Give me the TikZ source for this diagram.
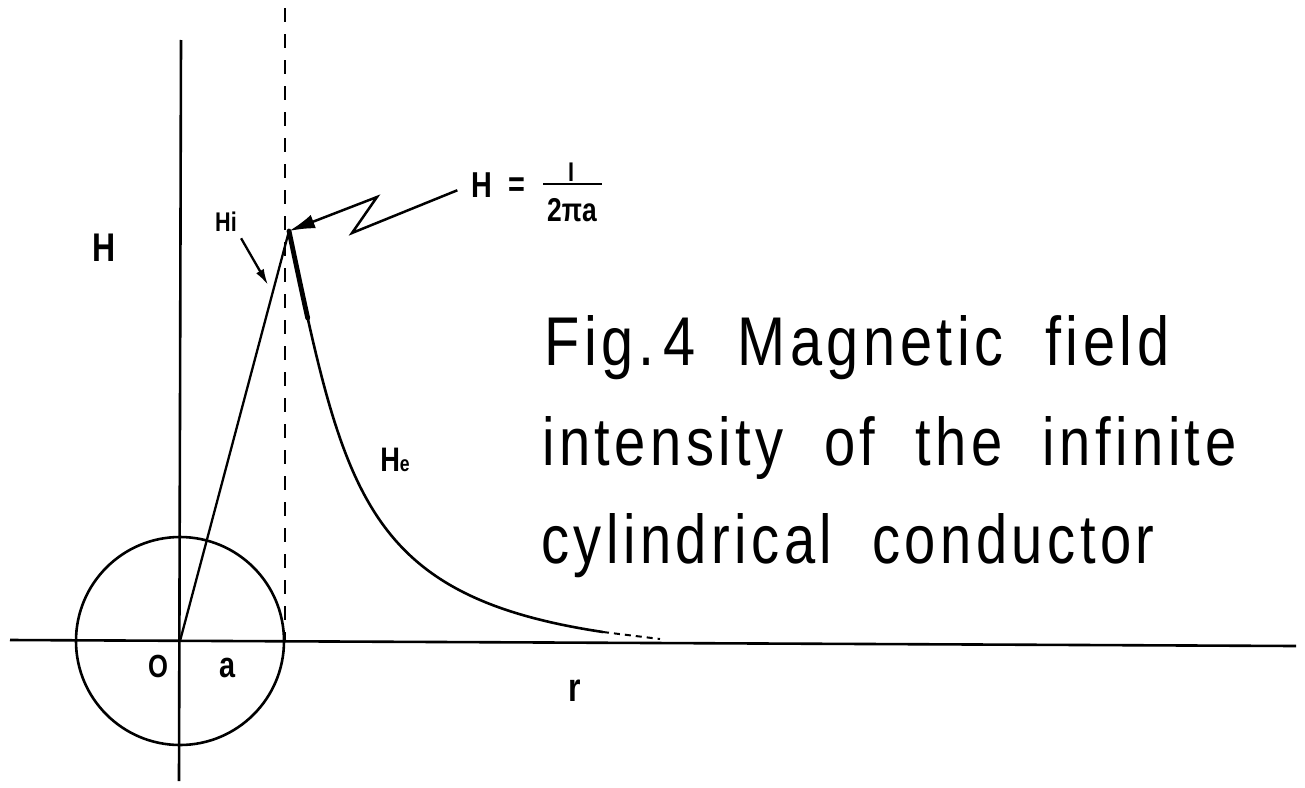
\documentclass[tikz,border=0pt]{standalone}
\usepackage{fontspec}
\usetikzlibrary{arrows.meta}
\newfontfamily\capfont[LetterSpace=8]{Liberation Sans}
\newfontfamily\labfont[FakeStretch=0.8]{Liberation Sans}
\newcommand\labsz[1]{\labfont\bfseries\fontsize{#1}{#1}\selectfont}
\begin{document}
\begin{tikzpicture}[x=1pt,y=-1pt,line width=2.6pt,
  lab/.style={inner sep=0pt},
  capline/.style={anchor=base west,inner sep=0pt,font=\capfont},
  tip/.style={-{Latex[length=#1,width=0.55*#1]}}]
\useasboundingbox (0,0) rectangle (1305,787);
% axes and construction
\coordinate (O) at (180,641);
\coordinate (xL) at (10,640);
\coordinate (xR) at (1296,646);
\coordinate (yT) at (181,40);
\coordinate (yB) at (179,781);
\coordinate (dT) at (285,8);
\coordinate (dB) at (285,641);
\coordinate (P) at (289,231);
\coordinate (tail) at (603,632);
\coordinate (tailE) at (660,639);
\draw (xL) -- (xR);
\draw (yT) -- (yB);
\draw (O) circle[radius=104pt];
\draw[line width=2.3pt,dash pattern=on 14pt off 12pt] (dT) -- (dB);
\draw[line width=2.3pt] (O) -- (P);
% H_e curve
\draw (P) .. controls (344,491) and (363,596) .. (tail);
\draw[line width=4.8pt,line cap=round] (P) .. controls (295.6,262.2) and (301.7,291.2) .. (307.7,318.1);
\draw[line width=2pt,dash pattern=on 6pt off 5pt] (tail) -- (tailE);
% labels
\node[lab,font=\labsz{40}] (Hax) at (104,248) {H};
\node[lab,font=\labsz{27}] (Hi) at (226,222) {Hi};
\node[lab,font=\labsz{34}] (He) at (395,460) {H\fontsize{22}{22}\selectfont e};
\node[lab,font=\labsz{32}] (Olab) at (158,666) {O};
\node[lab,font=\labsz{36}] (alab) at (228,668) {a};
\node[lab,font=\labsz{40}] (rlab) at (575,691) {r};
\node[lab,font=\labsz{36}] (Heq) at (482,185) {H};
\node[lab,font=\labsz{36}] (eq) at (517,187) {=};
\node[lab,font=\labsz{27}] (num) at (571,172) {I};
\node[lab,font=\labsz{33}] (den) at (572,210) {2πa};
\coordinate (barL) at (543,184);
\coordinate (barR) at (602,184);
\draw[line width=2.3pt] (barL) -- (barR);
% arrows
\coordinate (hiE) at (268,285);
\draw[tip=16pt,line width=2.3pt,shorten <=6pt] (Hi.south east) -- (hiE);
\coordinate (z1) at (352,233);
\coordinate (z2) at (377,197);
\draw[tip=26pt,line width=2.5pt,shorten <=14pt] (Heq.west) -- (z1) -- (z2) -- (P);
% caption
\node[capline] (c1) at (543,365) {\resizebox{625pt}{50pt}{Fig.\,4\ \ Magnetic\ \ field}};
\node[capline] (c2) at (541,465) {\resizebox{694pt}{49pt}{intensity\ \ of\ \ the\ \ infinite}};
\node[capline] (c3) at (540,563) {\resizebox{613pt}{50pt}{cylindrical\ \ conductor}};
\end{tikzpicture}
\end{document}
